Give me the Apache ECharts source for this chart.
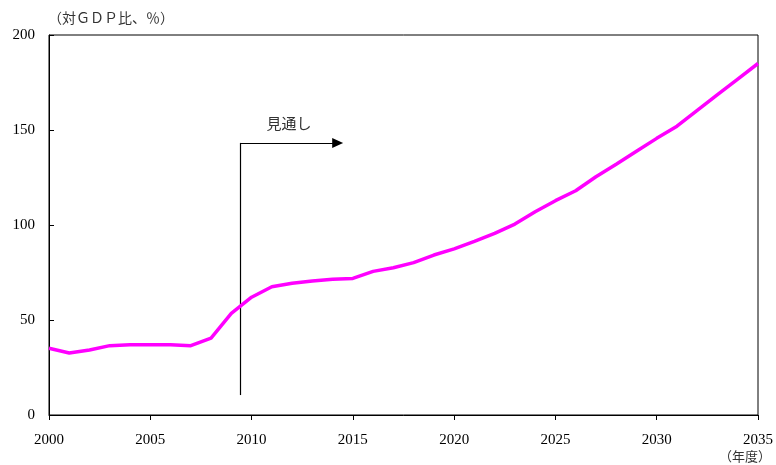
<!DOCTYPE html>
<html>
<head>
<meta charset="utf-8">
<script src="https://cdn.jsdelivr.net/npm/echarts@6/dist/echarts.min.js"></script>
<style>
  html, body { margin: 0; padding: 0; background: #fff; }
  #chart { width: 776px; height: 465px; }
</style>
</head>
<body>
<div id="chart"></div>
<script>
// Fiscal years and debt-to-GDP ratio (%)
var years = [2000, 2001, 2002, 2003, 2004, 2005, 2006, 2007, 2008, 2009,
             2010, 2011, 2012, 2013, 2014, 2015, 2016, 2017, 2018, 2019,
             2020, 2021, 2022, 2023, 2024, 2025, 2026, 2027, 2028, 2029,
             2030, 2031, 2032, 2033, 2034, 2035];
var debtRatio = [35.1, 32.6, 34.2, 36.5, 37.0, 37.0, 37.0, 36.5, 40.5, 53.5,
                 62.0, 67.5, 69.3, 70.5, 71.4, 71.9, 75.6, 77.5, 80.2, 84.2,
                 87.4, 91.4, 95.6, 100.5, 107.0, 112.8, 118.0, 125.4, 132.0, 138.8,
                 145.6, 152.0, 160.3, 168.6, 176.8, 185.0];

// Projection marker: vertical start line and arrow toward later years
var projStartYear = 2009.45;
var projArrowEndYear = 2014.25;
var projLineBottom = 10.5;
var projLineTop = 143.2;
var projLabel = '見通し';

var yTicks = [0, 50, 100, 150, 200];
var yName = '（対ＧＤＰ比、％）';
var xName = '（年度）';

var seriesData = years.map(function (y, i) { return [y, debtRatio[i]]; });

var chart = echarts.init(document.getElementById('chart'));
chart.setOption({
  animation: false,
  backgroundColor: '#fff',
  grid: {
    left: 49, right: 17, top: 35, bottom: 50,
    show: true, borderColor: '#000', borderWidth: 1, backgroundColor: 'transparent'
  },
  xAxis: {
    type: 'value',
    min: 2000, max: 2035, interval: 5,
    axisLine: { lineStyle: { color: '#000', width: 1 } },
    axisTick: { show: true, inside: false, length: 5, lineStyle: { color: '#000' } },
    axisLabel: {
      color: '#000', fontFamily: 'Liberation Serif', fontSize: 15, margin: 18,
      formatter: function (v) { return String(v); }
    },
    splitLine: { show: false },
    name: xName,
    nameLocation: 'end',
    nameGap: 0,
    nameTextStyle: {
      color: '#333', fontFamily: 'Noto Sans CJK JP', fontSize: 13,
      align: 'right', verticalAlign: 'top', padding: [35, -13, 0, 0]
    }
  },
  yAxis: {
    type: 'value',
    min: yTicks[0], max: yTicks[yTicks.length - 1], interval: 50,
    axisLine: { show: true, lineStyle: { color: '#000', width: 1 } },
    axisTick: { show: true, inside: true, length: 5, lineStyle: { color: '#000' } },
    axisLabel: { color: '#000', fontFamily: 'Liberation Serif', fontSize: 15, margin: 14 },
    splitLine: { show: false },
    name: yName,
    nameLocation: 'end',
    nameGap: 10,
    nameTextStyle: {
      color: '#333', fontFamily: 'Noto Sans CJK JP', fontSize: 14,
      align: 'left', padding: [0, 0, 0, -1]
    }
  },
  series: [{
    type: 'line',
    data: seriesData,
    symbol: 'none',
    lineStyle: { color: '#ff00ff', width: 3.5 },
    z: 3,
    markLine: {
      silent: true,
      animation: false,
      z: 2,
      lineStyle: { color: '#000', width: 1.2, type: 'solid' },
      data: [
        [
          { coord: [projStartYear, projLineBottom], symbol: 'none' },
          { coord: [projStartYear, projLineTop], symbol: 'none' }
        ],
        [
          { coord: [projStartYear, projLineTop], symbol: 'none' },
          {
            coord: [projArrowEndYear, projLineTop], symbol: 'triangle', symbolSize: [10, 11], symbolRotate: -90,
            label: {
              show: true, position: 'middle', formatter: projLabel, distance: 12,
              color: '#333', fontFamily: 'Noto Sans CJK JP', fontSize: 15
            }
          }
        ]
      ],
      label: { show: false }
    }
  }]
});
</script>
</body>
</html>
